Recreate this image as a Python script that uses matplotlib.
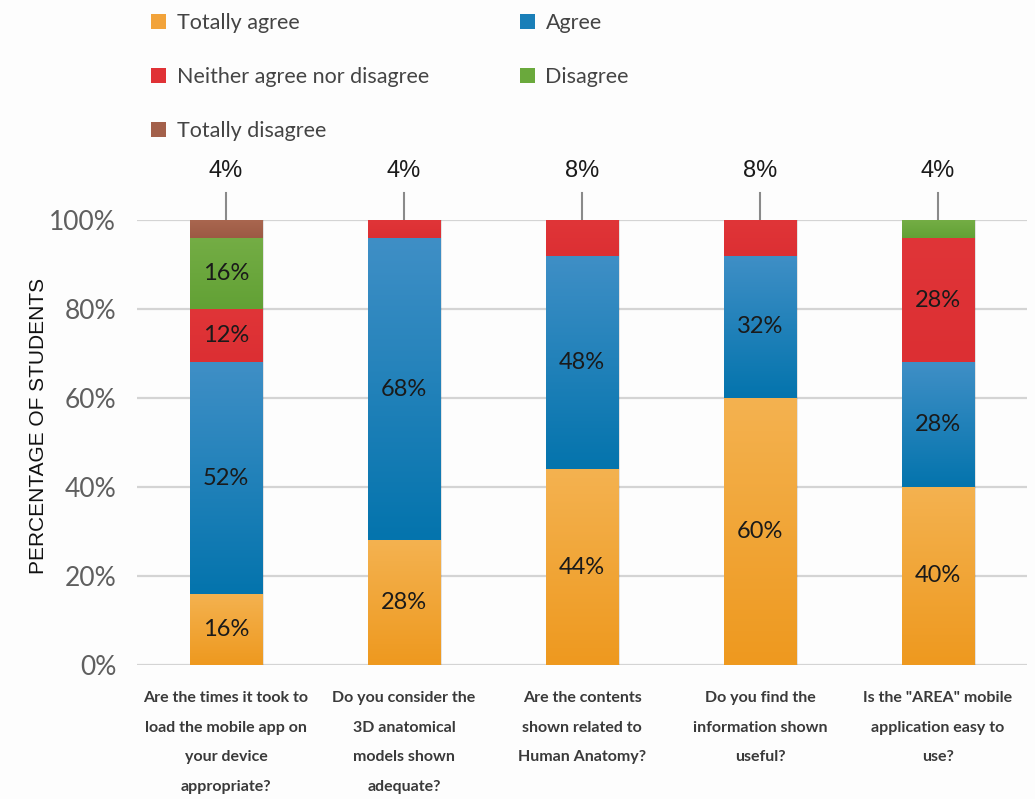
"""Stacked percentage bars of student answers to the AREA app questionnaire."""

import matplotlib

matplotlib.use("Agg")
import matplotlib.pyplot as plt  # noqa: E402
import numpy as np  # noqa: E402
from matplotlib.colors import to_rgba  # noqa: E402
from matplotlib.patches import Patch  # noqa: E402

questions = [
    "Are the times it took to\nload the mobile app on\nyour device\nappropriate?",
    "Do you consider the\n3D anatomical\nmodels shown\nadequate?",
    "Are the contents\nshown related to\nHuman Anatomy?",
    "Do you find the\ninformation shown\nuseful?",
    'Is the "AREA" mobile\napplication easy to\nuse?',
]
categories = ["Totally agree", "Agree", "Neither agree nor disagree", "Disagree", "Totally disagree"]
totally_agree = [16, 28, 44, 60, 40]
agree = [52, 68, 48, 32, 28]
neither = [12, 4, 8, 8, 28]
disagree = [16, 0, 0, 0, 4]
totally_disagree = [4, 0, 0, 0, 0]
yticks = [0, 20, 40, 60, 80, 100]

series = [totally_agree, agree, neither, disagree, totally_disagree]
# (top, bottom) colours of each segment's vertical gradient
shades = [
    ("#f4b250", "#ee991f"),
    ("#3f8fc6", "#0474ad"),
    ("#e03538", "#dc2f33"),
    ("#74ad45", "#62a135"),
    ("#a9664f", "#9c5a44"),
]
legend_colors = ["#f2a33a", "#1a7fb8", "#e03236", "#6aa93c", "#a3604a"]

LABEL_FONT = ["Lato", "DejaVu Sans"]
NARROW_FONT = ["Liberation Sans Narrow", "Liberation Sans", "DejaVu Sans"]

fig = plt.figure(figsize=(10.35, 7.99), dpi=100, facecolor="#fdfdfd")
ax = fig.add_axes([0.1324, 0.1677, 0.8599, 0.557])
ax.set_facecolor("#fdfdfd")

x = np.arange(len(questions))
width = 0.405
bottom = np.zeros(len(questions))


def fill_gradient(patch, top, bot):
    """Paint a bar patch with a vertical gradient clipped to its outline."""
    x0, y0 = patch.get_x(), patch.get_y()
    w, h = patch.get_width(), patch.get_height()
    if h <= 0:
        return
    c_top, c_bot = np.array(to_rgba(top)), np.array(to_rgba(bot))
    t = np.linspace(0, 1, 64)[:, None]
    img = (c_bot * (1 - t) + c_top * t)[:, None, :]
    im = ax.imshow(img, extent=(x0, x0 + w, y0, y0 + h), origin="lower",
                   aspect="auto", zorder=2, interpolation="bicubic")
    im.set_clip_path(patch)


for vals, (top, bot) in zip(series, shades):
    vals = np.array(vals, dtype=float)
    # soft drop shadow to the right of each segment
    ax.bar(x + 0.012, vals, width, bottom=bottom, color="#000000", alpha=0.10,
           zorder=1.5, linewidth=0)
    bars = ax.bar(x, vals, width, bottom=bottom, facecolor="none", edgecolor="none", zorder=2)
    for patch in bars:
        fill_gradient(patch, top, bot)
    # in-bar labels for segments large enough to hold text
    for xi, v, b in zip(x, vals, bottom):
        if v >= 10:
            ax.text(xi, b + v / 2, f"{v:.0f}%", ha="center", va="center",
                    fontsize=17, color="#1a1a1a", family=LABEL_FONT, zorder=4)
    bottom += vals

# thin top segments are labelled above the bar with a leader line
top_values = [totally_disagree[0], neither[1], neither[2], neither[3], disagree[4]]
for xi, v in zip(x, top_values):
    ax.plot([xi, xi], [100, 106], color="#8a8a8a", lw=1.5, clip_on=False, zorder=1)
    ax.text(xi, 108.5, f"{v}%", ha="center", va="bottom", fontsize=17,
            color="#1a1a1a", family=NARROW_FONT)

ax.set_xlim(-0.5, len(questions) - 0.5)
ax.set_ylim(0, 100)
ax.set_yticks(yticks)
ax.set_yticklabels([f"{t}%" for t in yticks], fontsize=19, color="#5f5f5f", family=LABEL_FONT)
ax.set_xticks(x)
ax.set_xticklabels(questions, fontsize=11.5, color="#3a3a3a", family=LABEL_FONT,
                   fontweight="bold", linespacing=2.4, va="top")
ax.tick_params(axis="both", length=0)
ax.tick_params(axis="x", pad=19)
ax.tick_params(axis="y", pad=15)
ax.grid(axis="y", color="#d4d4d4", lw=1.6, zorder=0)
ax.set_axisbelow(True)
for s in ax.spines.values():
    s.set_visible(False)

ax.set_ylabel("PERCENTAGE OF STUDENTS", fontsize=15, color="#111111", family=NARROW_FONT)
ax.yaxis.set_label_coords(-0.100, 0.537)

handles = [Patch(facecolor=c, edgecolor="none") for c in legend_colors]
order = [0, 2, 4, 1, 3]
fig.legend([handles[i] for i in order], [categories[i] for i in order],
           loc="upper left", bbox_to_anchor=(0.146, 0.984), ncol=2, frameon=False,
           prop={"family": LABEL_FONT, "size": 15.5}, labelcolor="#444444",
           handlelength=0.7, handleheight=0.7, handletextpad=0.5,
           labelspacing=1.58, columnspacing=4.2, borderpad=0, borderaxespad=0)

fig.savefig("out.png", dpi=100, facecolor=fig.get_facecolor())
